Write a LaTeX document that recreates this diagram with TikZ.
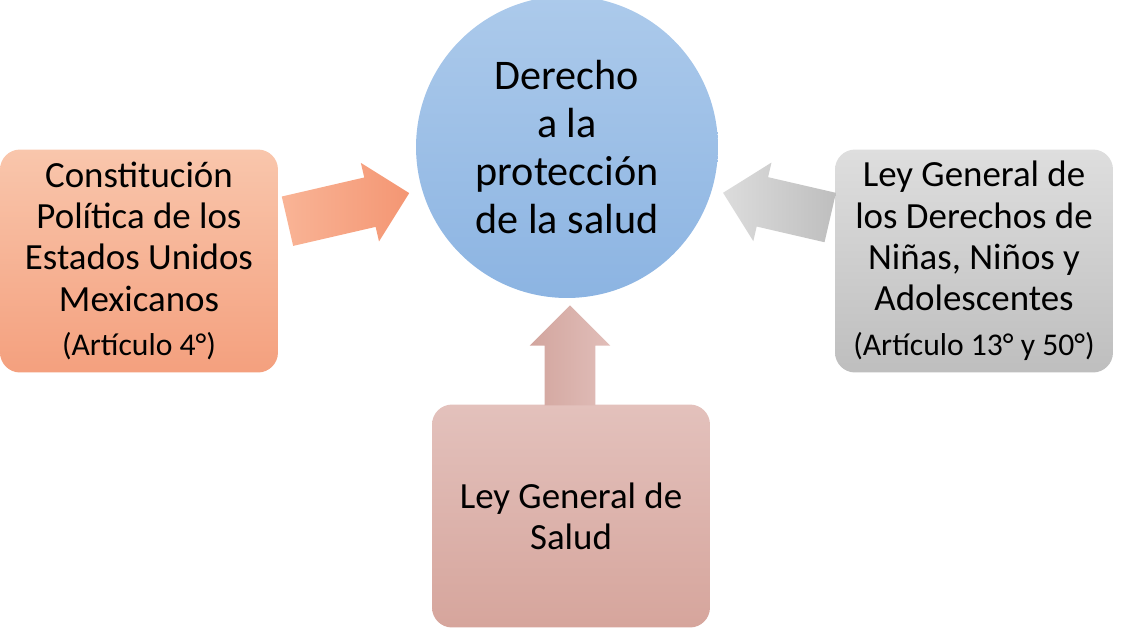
\documentclass[tikz,border=0pt]{standalone}
\usepackage{fontspec}
\setmainfont{Carlito}
\usetikzlibrary{shapes.arrows,positioning}

\tikzset{
  src/.style={rounded corners=0.4cm,minimum width=5.56cm,minimum height=4.46cm,
    align=center,font=\fontsize{21}{23.5}\selectfont,inner sep=2pt},
  fat/.style={single arrow,inner xsep=0pt,inner ysep=0.5cm,
    single arrow head extend=0.3cm,single arrow head indent=0pt}
}

\begin{document}
\begin{tikzpicture}[x=0.02cm,y=-0.02cm]
  \useasboundingbox (0,0) rectangle (1125,630);
  % central goal
  \node[circle,minimum size=6.04cm,top color={rgb,255:red,172;green,202;blue,235},
    bottom color={rgb,255:red,140;green,180;blue,226},
    align=center,font=\fontsize{24}{27.5}\selectfont] (goal) at (567,147)
    {Derecho\\ a la\\ protección\\ de la salud};
  % sources
  \node[src,top color={rgb,255:red,249;green,198;blue,172},
    bottom color={rgb,255:red,244;green,160;blue,126}] (cpeum) at (139,261)
    {Constitución\\Política de los\\Estados Unidos\\Mexicanos\\[2pt]
     {\fontsize{18}{20}\selectfont (Artículo 4°)}};
  \node[src,top color={rgb,255:red,222;green,222;blue,222},
    bottom color={rgb,255:red,190;green,190;blue,190}] (lgdnna) at (974,261)
    {Ley General de\\los Derechos de\\Niñas, Niños y\\Adolescentes\\[2pt]
     {\fontsize{18}{20}\selectfont (Artículo 13° y 50°)}};
  \node[src,top color={rgb,255:red,227;green,193;blue,188},
    bottom color={rgb,255:red,214;green,165;blue,156}] (lgs) at (571,516)
    {Ley General de\\Salud};
  % arrows
  \node[fat,minimum height=2.5cm,rotate=13,left color={rgb,255:red,249;green,180;blue,150},
    right color={rgb,255:red,244;green,150;blue,115}] (a1) at (336,210) {};
  \node[fat,minimum height=2.2cm,rotate=167,left color={rgb,255:red,220;green,220;blue,220},
    right color={rgb,255:red,190;green,190;blue,190}] (a2) at (789,208) {};
  \node[fat,minimum height=2.0cm,rotate=90,left color={rgb,255:red,210;green,165;blue,158},
    right color={rgb,255:red,225;green,190;blue,185}] (a3) at (570,368) {};
\end{tikzpicture}
\end{document}
